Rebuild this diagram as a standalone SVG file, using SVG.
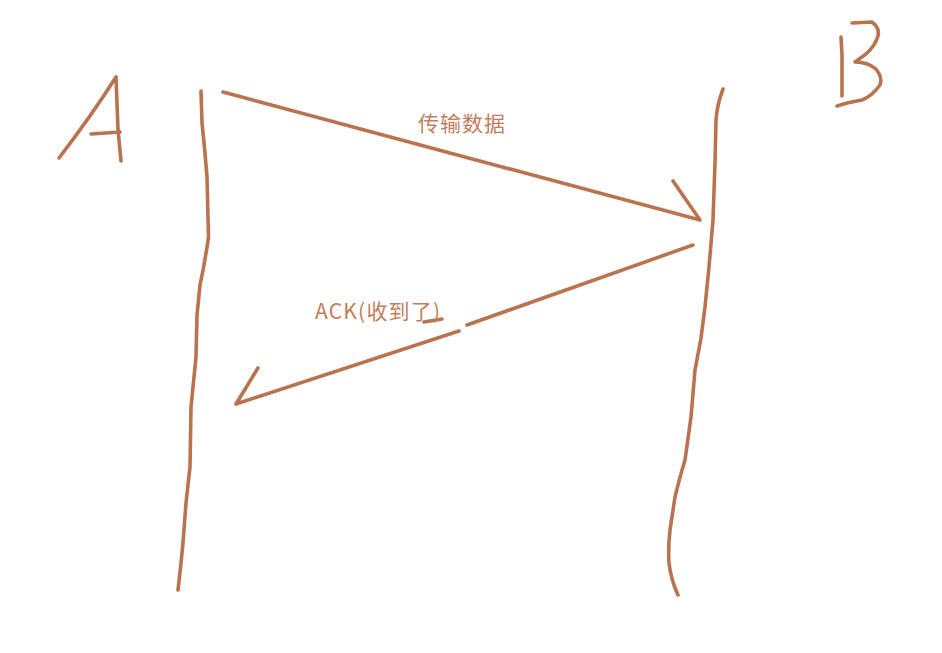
<svg xmlns="http://www.w3.org/2000/svg" width="942" height="653" viewBox="0 0 942 653">
<style>
.s{fill:none;stroke:#b9744f;stroke-width:3.6;stroke-linecap:round;stroke-linejoin:round}
.t{fill:#bf7e5c;font-family:"Noto Sans CJK SC","Liberation Sans",sans-serif;font-size:21px}
</style>
<rect width="942" height="653" fill="#ffffff"/>
<g id="labelA"><path class="s" d="M59,158 Q92,115 116,77 L118,130 L121,161 M91,134 L120,132"/></g>
<g id="labelB"><path class="s" d="M841,37 L842,55 L842,96 M852,23 L872,22 Q880,28 878,36 Q875,46 866,54 L855,62 Q868,62 876,69 Q883,78 880,85 Q872,96 862,100 L847,103 L837,106"/></g>
<g id="lifelineA"><path class="s" d="M201,91 L202,123 Q205,150 207,177 L208.5,237 Q205,262 200,285 L197,315 L196,357 L191,407 L190,467 L186,503 L183,543 L181,563 L178,590"/></g>
<g id="lifelineB"><path class="s" d="M723,89 Q717,105 716,120 L715,163 L713,220 L709,267 L705,307 L701,338 L695,370 L691,417 L685,460 Q679,480 675,497 L670,530 Q668,548 669,563 Q671,580 678,595"/></g>
<g id="connectors">
<path class="s" d="M223,92 L700,220 M673,181 L700,220"/>
<path class="s" d="M693,245 L467,325 M459,331 L236,404 M258,368 L236,404"/>
<path class="s" d="M424,322 L442,319"/>
</g>
<g id="texts">
<text class="t" x="418" y="131" letter-spacing="1">传输数据</text>
<text class="t" x="315" y="319" letter-spacing="1.2">ACK(收到了)</text>
</g>
</svg>
